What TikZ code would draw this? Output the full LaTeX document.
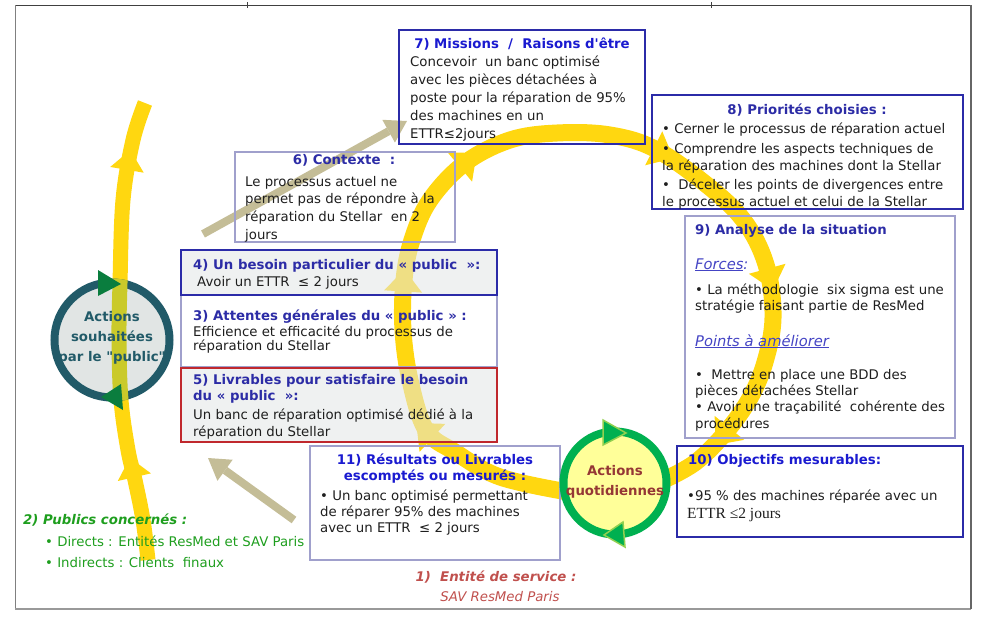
\documentclass[tikz,border=0pt]{standalone}
\usepackage{fontspec}
\setmainfont{DejaVu Sans}
\newfontfamily\timesfont{Liberation Serif}
\usepackage{xcolor}
\usepackage{tikz}
\usetikzlibrary{arrows.meta,decorations.markings}
\definecolor{ringyellow}{HTML}{FFD710}
\definecolor{olivebar}{HTML}{CACA2A}
\definecolor{boxblue}{HTML}{2B2BA8}
\definecolor{boxlilac}{HTML}{A0A0CC}
\definecolor{boxred}{HTML}{C0282D}
\definecolor{boxgray}{HTML}{E2E6E5}
\definecolor{titleblue}{HTML}{1A1AD0}
\definecolor{navyblue}{HTML}{2C2CA6}
\definecolor{slateblue}{HTML}{4444C4}
\definecolor{bodytext}{HTML}{1E1E1E}
\definecolor{tanarrow}{HTML}{C4BD97}
\definecolor{tealring}{HTML}{215A68}
\definecolor{tealfill}{HTML}{E1E5E4}
\definecolor{cyclegreen}{HTML}{00B050}
\definecolor{lightgreen}{HTML}{92D050}
\definecolor{darkgreen}{HTML}{0A7D3E}
\definecolor{dailyfill}{HTML}{FFFF99}
\definecolor{dailytext}{HTML}{953735}
\definecolor{publicgreen}{HTML}{1E9E1E}
\definecolor{entityred}{HTML}{C0504D}
\newcommand\ringwing{\fill[ringyellow] (0pt,-19pt) -- (22pt,0pt) -- (0pt,19pt) -- cycle;}
\newcommand\barwing{\fill[ringyellow] (0pt,-17pt) -- (20pt,0pt) -- (0pt,17pt) -- cycle;}
\tikzset{
  panel/.style={draw, rectangle, inner sep=0pt, line width=1.6pt},
  darkpanel/.style={panel, draw=boxblue},
  lightpanel/.style={panel, draw=boxlilac, line width=1.4pt},
  redpanel/.style={panel, draw=boxred},
  graypanel/.style={fill=boxgray, fill opacity=0.55},
  head/.style={inner sep=0pt, text=navyblue, font=\fontsize{13.3}{16}\selectfont\bfseries},
  headblue/.style={head, text=titleblue},
  body/.style={inner sep=0pt, anchor=north west, align=left, text=bodytext},
  sublabel/.style={inner sep=0pt, anchor=base west, text=slateblue, font=\fontsize{14.7}{17}\selectfont\itshape},
  tanlink/.style={tanarrow, line width=8pt, -{Triangle[width=26pt, length=21pt, line width=0pt]}},
}
\begin{document}
\begin{tikzpicture}[x=1pt, y=-1pt]
\useasboundingbox (0,0) rectangle (986,625);
% frame
\draw[black!75, line width=1pt] (15,5) -- (971,5);
\draw[black!75, line width=0.8pt] (247,2) -- (247,8);
\draw[black!75, line width=0.8pt] (711,2) -- (711,8);
\draw[black!50, line width=1pt] (15,5) -- (15,609);
\draw[black!40, line width=2pt] (15,609) -- (971,609);
\draw[black!60, line width=1.5pt] (971,5) -- (971,609);
% yellow cycle
\draw[ringyellow, line width=17pt, postaction={decorate}, decoration={markings,
  mark=at position 148pt with {\ringwing},
  mark=at position 300pt with {\ringwing},
  mark=at position 441pt with {\ringwing},
  mark=at position 645pt with {\ringwing},
  mark=at position 815pt with {\ringwing},
  mark=at position 985pt with {\ringwing}}]
  plot[smooth, tension=0.6] coordinates {(568,492) (500,477) (455,452) (426,430) (410,380) (403,330) (404,280) (412,240) (430,200) (465,163) (510,140) (557,133) (610,135) (657,150) (713,190) (747,225) (767,268) (773,318) (765,362) (750,398) (726,432) (696,462) (664,480)};
% yellow bar on the left
\draw[ringyellow, line width=15pt, postaction={decorate}, decoration={markings,
  mark=at position 84pt with {\barwing},
  mark=at position 393pt with {\barwing}}]
  plot[smooth, tension=0.6] coordinates {(148,560) (143,520) (135,480) (128,450) (121,400) (119,340) (120,283) (123,200) (133,140) (145,103)};
% tan arrows
\coordinate (ctxtail) at (203,234);
\coordinate (ctxhead) at (407,121);
\coordinate (restail) at (294,520);
\coordinate (reshead) at (208,458);
\draw[tanlink] (ctxtail) -- (ctxhead);
\draw[tanlink] (restail) -- (reshead);
% panels
\node[darkpanel, minimum width=246pt, minimum height=114pt] (mission) at (522,87) {};
\node[darkpanel, minimum width=311pt, minimum height=114pt] (priority) at (807.5,152) {};
\node[lightpanel, minimum width=270pt, minimum height=222pt] (analysis) at (820,327) {};
\node[darkpanel, minimum width=286pt, minimum height=91pt] (objective) at (820,491.5) {};
\node[lightpanel, minimum width=220pt, minimum height=90pt] (context) at (345,197) {};
\node[lightpanel, minimum width=316pt, minimum height=72pt] (expect) at (339,331) {};
\node[darkpanel, graypanel, minimum width=316pt, minimum height=45pt] (need) at (339,272.5) {};
\node[redpanel, graypanel, minimum width=316pt, minimum height=74pt] (deliver) at (339,405) {};
\node[lightpanel, minimum width=250pt, minimum height=114pt] (result) at (435,503) {};
% wished actions circle
\node[circle, draw=tealring, fill=tealfill, line width=8pt, inner sep=0pt, minimum size=115pt] (wish) at (112,340) {};
\begin{scope}
\clip (112,340) circle[radius=61.5];
\draw[olivebar, line width=15pt] plot[smooth, tension=0.6] coordinates {(148,560) (143,520) (135,480) (128,450) (121,400) (119,340) (120,283) (123,200) (133,140) (145,103)};
\end{scope}
\fill[darkgreen] (98,270) -- (121,284) -- (98,296) -- cycle;
\fill[darkgreen] (101,397) -- (121,384) -- (123,410) -- cycle;
% daily actions circle
\node[circle, draw=cyclegreen, fill=dailyfill, line width=8pt, inner sep=0pt, minimum size=103pt] (daily) at (615,483) {};
\filldraw[fill=cyclegreen, draw=lightgreen, line width=1.5pt] (603,420) -- (626,433) -- (603,445) -- cycle;
\filldraw[fill=cyclegreen, draw=lightgreen, line width=1.5pt] (604,535) -- (623,522) -- (625,547) -- cycle;
% texts
\node[headblue, anchor=base] (missionhead) at (522,48) {7) Missions~ /~ Raisons d\textquotesingle être};
\node[body, font=\fontsize{13.3}{18}\selectfont] (missiontext) at (410,53.4) {\strut Concevoir~ un banc optimisé\\avec les pièces détachées à\\poste pour la réparation de 95\%\\des machines en un\\ETTR≤2jours};
\node[head, anchor=base] (priorityhead) at (807,114) {8) Priorités choisies :};
\node[body, font=\fontsize{13.3}{17}\selectfont] (prioritytext) at (662,121.1) {\strut • Cerner le processus de réparation actuel\\[3pt]• Comprendre les aspects techniques de\\la réparation des machines dont la Stellar\\[2pt]•~ Déceler les points de divergences entre\\le processus actuel et celui de la Stellar};
\node[head, anchor=base west] (analysishead) at (695,234) {9) Analyse de la situation};
\node[sublabel] (strength) at (695,269) {\underline{Forces}:};
\node[body, font=\fontsize{13.3}{16}\selectfont] (strengthtext) at (695,282.8) {\strut • La méthodologie~ six sigma est une\\stratégie faisant partie de ResMed};
\node[sublabel] (improve) at (695,346) {\underline{Points à améliorer}};
\node[body, font=\fontsize{13.3}{16.3}\selectfont] (improvetext) at (695,367.6) {\strut •~ Mettre en place une BDD des\\pièces détachées Stellar\\• Avoir une traçabilité~ cohérente des\\procédures};
\node[headblue, anchor=base west] (objectivehead) at (688,464) {10) Objectifs mesurables:};
\node[inner sep=0pt, anchor=base west, text=bodytext, font=\fontsize{13.3}{16}\selectfont] (objectivetext) at (687,500) {•95 \% des machines réparée avec un};
\node[inner sep=0pt, anchor=base west, text=bodytext, font=\timesfont\fontsize{15.5}{18}\selectfont] (objectivetime) at (687,518) {ETTR ≤2 jours};
\node[head, anchor=base] (contexthead) at (344,164) {6) Contexte~ :};
\node[body, font=\fontsize{13.3}{17.7}\selectfont] (contexttext) at (245,173.6) {\strut Le processus actuel ne\\permet pas de répondre à la\\réparation du Stellar~ en 2\\jours};
\node[head, anchor=base west] (needhead) at (193,269) {4) Un besoin particulier du « public~ »:};
\node[inner sep=0pt, anchor=base west, text=bodytext, font=\fontsize{13.3}{16}\selectfont] (needtext) at (197,286) {Avoir un ETTR~ ≤ 2 jours};
\node[head, anchor=base west] (expecthead) at (193,320) {3) Attentes générales du « public » :};
\node[body, font=\fontsize{13.3}{13}\selectfont] (expecttext) at (193,325.5) {Efficience et efficacité du processus de\\réparation du Stellar};
\node[head, anchor=north west, align=left] (deliverhead) at (193,372.8) {\strut 5) Livrables pour satisfaire le besoin\\du « public~ »:};
\node[body, font=\fontsize{13.3}{17}\selectfont] (delivertext) at (193,407.1) {\strut Un banc de réparation optimisé dédié à la\\réparation du Stellar};
\node[headblue, anchor=north, align=center] (resulthead) at (435,452.8) {\strut 11) Résultats ou Livrables\\escomptés ou mesurés :};
\node[body, font=\fontsize{13.3}{16}\selectfont] (resulttext) at (320,488.8) {\strut • Un banc optimisé permettant\\de réparer 95\% des machines\\avec un ETTR~ ≤ 2 jours};
\node[inner sep=0pt, align=center, text=tealring, font=\fontsize{13.3}{20}\selectfont\bfseries] (wishtext) at (112,338) {Actions\\souhaitées\\par le \textquotedbl public\textquotedbl};
\node[inner sep=0pt, align=center, text=dailytext, font=\fontsize{13.3}{20}\selectfont\bfseries] (dailytext) at (615,481.5) {Actions\\quotidiennes};
\node[inner sep=0pt, anchor=base west, text=publicgreen, font=\fontsize{13.3}{16}\selectfont\bfseries\itshape] (publichead) at (23,524) {2) Publics concernés :};
\node[inner sep=0pt, anchor=base west, text=publicgreen, font=\fontsize{13.3}{16}\selectfont] (publicdirect) at (45,546) {• Directs : Entités ResMed et SAV Paris};
\node[inner sep=0pt, anchor=base west, text=publicgreen, font=\fontsize{13.3}{16}\selectfont] (publicindirect) at (45,567) {• Indirects : Clients~ finaux};
\node[inner sep=0pt, anchor=base, text=entityred, font=\fontsize{13.3}{16}\selectfont\bfseries\itshape] (entityhead) at (496,581) {1)~ Entité de service :};
\node[inner sep=0pt, anchor=base, text=entityred, font=\fontsize{13.3}{16}\selectfont\itshape] (entityname) at (500,601) {SAV ResMed Paris};
\end{tikzpicture}
\end{document}
